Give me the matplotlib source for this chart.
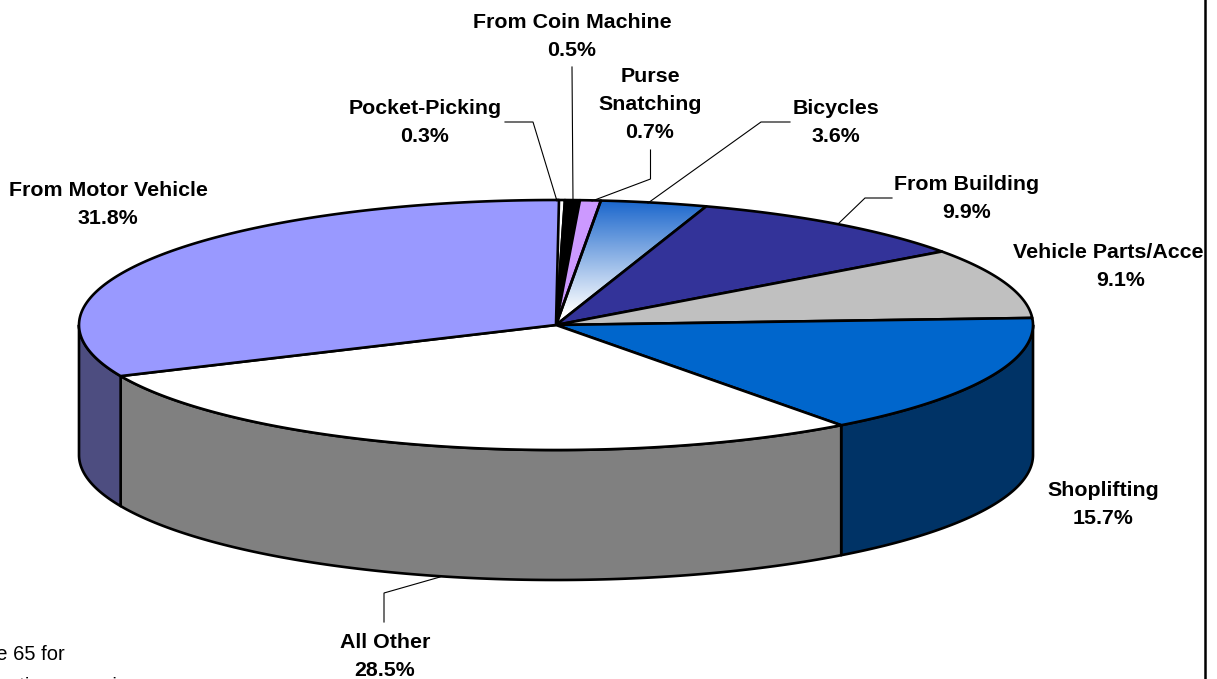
import numpy as np
import matplotlib
matplotlib.use('Agg')
import matplotlib.pyplot as plt
from matplotlib.patches import Polygon, Rectangle

plt.rcParams['font.family'] = ['Liberation Sans', 'DejaVu Sans']

################## data ###################################################
categories = ['Pocket-Picking', 'From Coin Machine', 'Purse Snatching', 'Bicycles',
              'From Building', 'Vehicle Parts/Accessories', 'Shoplifting',
              'All Other', 'From Motor Vehicle']
values = [0.3, 0.5, 0.7, 3.6, 9.9, 9.1, 15.7, 28.5, 31.8]

top_colors = ['#ffffff', '#000000', '#cc99ff', '#1a66cc', '#333399',
              '#c0c0c0', '#0066cc', '#ffffff', '#9999ff']
side_colors = ['#808080', '#000000', '#66507f', '#0d3366', '#1a1a4d',
               '#606060', '#003366', '#808080', '#4d4d80']

# label text, x, y of each line (pixels), one entry per slice
label_text = {
    'Pocket-Picking': (['Pocket-Picking', '0.3%'], 425, [109, 137]),
    'From Coin Machine': (['From Coin Machine', '0.5%'], 572, [22, 50]),
    'Purse Snatching': (['Purse', 'Snatching', '0.7%'], 650, [77, 105, 133]),
    'Bicycles': (['Bicycles', '3.6%'], 836, [109, 137]),
    'From Building': (['From Building', '9.9%'], 967, [185, 213]),
    'Shoplifting': (['Shoplifting', '15.7%'], 1103, [491, 519]),
    'All Other': (['All Other', '28.5%'], 385, [642, 670]),
    'From Motor Vehicle': (['From Motor Vehicle', '31.8%'], 108, [191, 219]),
}

leaders = [
    ([505, 533, 557], [122, 122, 201]),
    ([572, 573], [67, 201]),
    ([650.5, 650.5, 592], [150, 179, 201]),
    ([790, 761, 648], [122, 122, 203]),
    ([892, 865, 838], [198, 198, 224]),
    ([384, 384, 440], [622, 593, 577]),
]

################## geometry ###############################################
cx, cy = 556, 325
rx, ry = 477, 125
depth = 130
edge_width = 1.9
label_size = 15.4


def rim(t, dy=0):
    return cx + rx * np.sin(t), cy - ry * np.cos(t) + dy


fig = plt.figure(figsize=(12.17, 6.79), dpi=100)
ax = fig.add_axes([0, 0, 1, 1])
ax.set_xlim(0, 1217)
ax.set_ylim(679, 0)
ax.axis('off')

angles = np.cumsum([0] + values) / 100 * 2 * np.pi

################## side walls #############################################
for i in range(len(values)):
    a = max(angles[i], np.pi / 2)
    b = min(angles[i + 1], 3 * np.pi / 2)
    if b <= a:
        continue
    t = np.linspace(a, b, 120)
    x, y = rim(t)
    x2, y2 = rim(t[::-1], depth)
    pts = np.column_stack([np.r_[x, x2], np.r_[y, y2]])
    ax.add_patch(Polygon(pts, closed=True, facecolor=side_colors[i],
                         edgecolor='black', linewidth=edge_width, joinstyle='round'))

################## top slices #############################################
for i in range(len(values)):
    t = np.linspace(angles[i], angles[i + 1], 120)
    x, y = rim(t)
    pts = np.column_stack([np.r_[cx, x], np.r_[cy, y]])
    poly = Polygon(pts, closed=True, facecolor=top_colors[i],
                   edgecolor='black', linewidth=edge_width, joinstyle='round', zorder=3)
    if categories[i] == 'Bicycles':
        # fades from blue at the rim to white near the centre
        poly.set_facecolor('none')
        ax.add_patch(poly)
        fill = Polygon(pts, closed=True, transform=ax.transData)
        grad = np.linspace(0, 1, 256).reshape(-1, 1)
        cmap = matplotlib.colors.LinearSegmentedColormap.from_list(
            'bike', [top_colors[i], '#ffffff'])
        im = ax.imshow(grad, cmap=cmap, extent=[cx, x.max(), cy - 12, y.min()],
                       aspect='auto', zorder=2)
        im.set_clip_path(fill)
        ax.set_xlim(0, 1217)
        ax.set_ylim(679, 0)
    else:
        ax.add_patch(poly)

################## leaders and labels #####################################
for lx, ly in leaders:
    ax.plot(lx, ly, color='black', linewidth=0.8, zorder=4, solid_joinstyle='miter')

for name, (lines, lx, ys) in label_text.items():
    for line, ly in zip(lines, ys):
        ax.text(lx, ly, line, ha='center', va='center', fontsize=label_size,
                fontweight='bold', color='black', zorder=5)

# this label runs into the right frame and is cut there
clip = Rectangle((0, 0), 1204, 679, transform=ax.transData)
parts = ax.text(1013, 252, categories[5], ha='left', va='center', fontsize=label_size,
                fontweight='bold', color='black', zorder=5, clip_on=True)
parts.set_clip_path(clip)
ax.text(1121, 280, '9.1%', ha='center', va='center', fontsize=label_size,
        fontweight='bold', color='black', zorder=5)

# footnote, cut by the left and bottom edges of the picture
ax.text(65, 655, 'See Table 65 for', ha='right', va='center', fontsize=14.5, color='black')
ax.text(138, 686, 'reporting agencies', ha='right', va='center', fontsize=14.5, color='black')

# right frame line
ax.plot([1205, 1205], [0, 679], color='black', linewidth=1.8, zorder=6)

fig.savefig('out.png', dpi=100)
